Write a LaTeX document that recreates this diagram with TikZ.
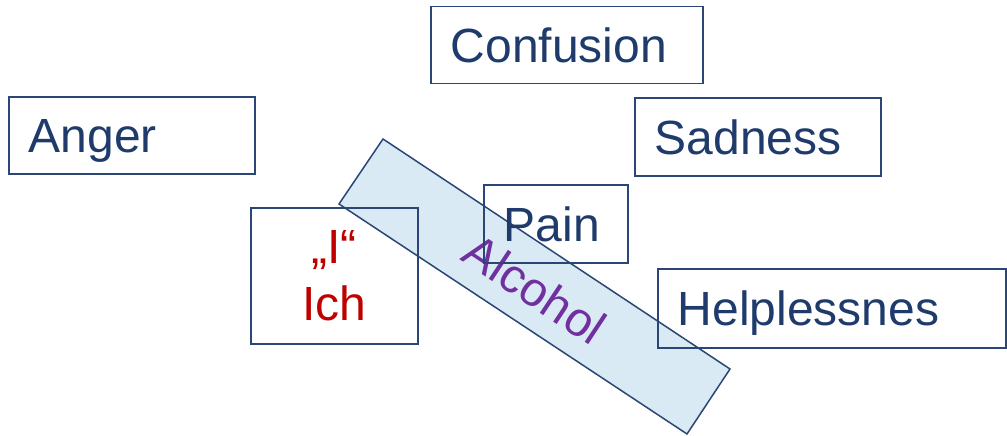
\documentclass[tikz,border=0pt]{standalone}
\usepackage{fontspec}
\setmainfont{Liberation Sans}
\definecolor{navy}{HTML}{1F3B6B}
\definecolor{frame}{HTML}{2A4674}
\definecolor{darkred}{HTML}{C00000}
\definecolor{violet}{HTML}{7030A0}
\definecolor{paleblue}{HTML}{DAEAF5}
\begin{document}
\begin{tikzpicture}[x=1pt,y=-1pt,
  word/.style={draw=frame, line width=1.5pt, anchor=north west, inner xsep=20pt, inner ysep=0pt,
    text height=35pt, text depth=0pt,
    align=left, text=navy, font=\fontsize{48}{57}\selectfont},
  selfbox/.style={draw=frame, line width=1.5pt, anchor=north west, inner sep=0pt,
    align=center, text=darkred, font=\fontsize{48}{57}\selectfont}]
\useasboundingbox (0,0) rectangle (1007,436);

% the tilted alcohol bar, drawn underneath the boxes
\coordinate (a1) at (383,139);
\coordinate (a2) at (730,369);
\coordinate (a3) at (687,434);
\coordinate (a4) at (339,204);
\draw[frame, line width=1.5pt, fill=paleblue] (a1) -- (a2) -- (a3) -- (a4) -- cycle;
\node[text=violet, font=\fontsize{48}{57}\selectfont, rotate=-33.5] (alcohol) at (535,289) {Alcohol};

% emotion boxes
\node[word, text width=232pt, minimum height=77pt] (confusion) at (430,6) {Confusion};
\node[word, text width=206pt, minimum height=77pt] (anger) at (8,96) {Anger};
\node[word, text width=206pt, minimum height=78pt] (sadness) at (634,97) {Sadness};
\node[word, text width=104pt, minimum height=78pt] (pain) at (483,184) {Pain};
\node[word, text width=308pt, minimum height=79pt] (help) at (657,268) {Helplessnes};

% the self
\node[selfbox, minimum width=167pt, minimum height=136pt] (ich) at (250,207) {„I“\\Ich};
\end{tikzpicture}
\end{document}
